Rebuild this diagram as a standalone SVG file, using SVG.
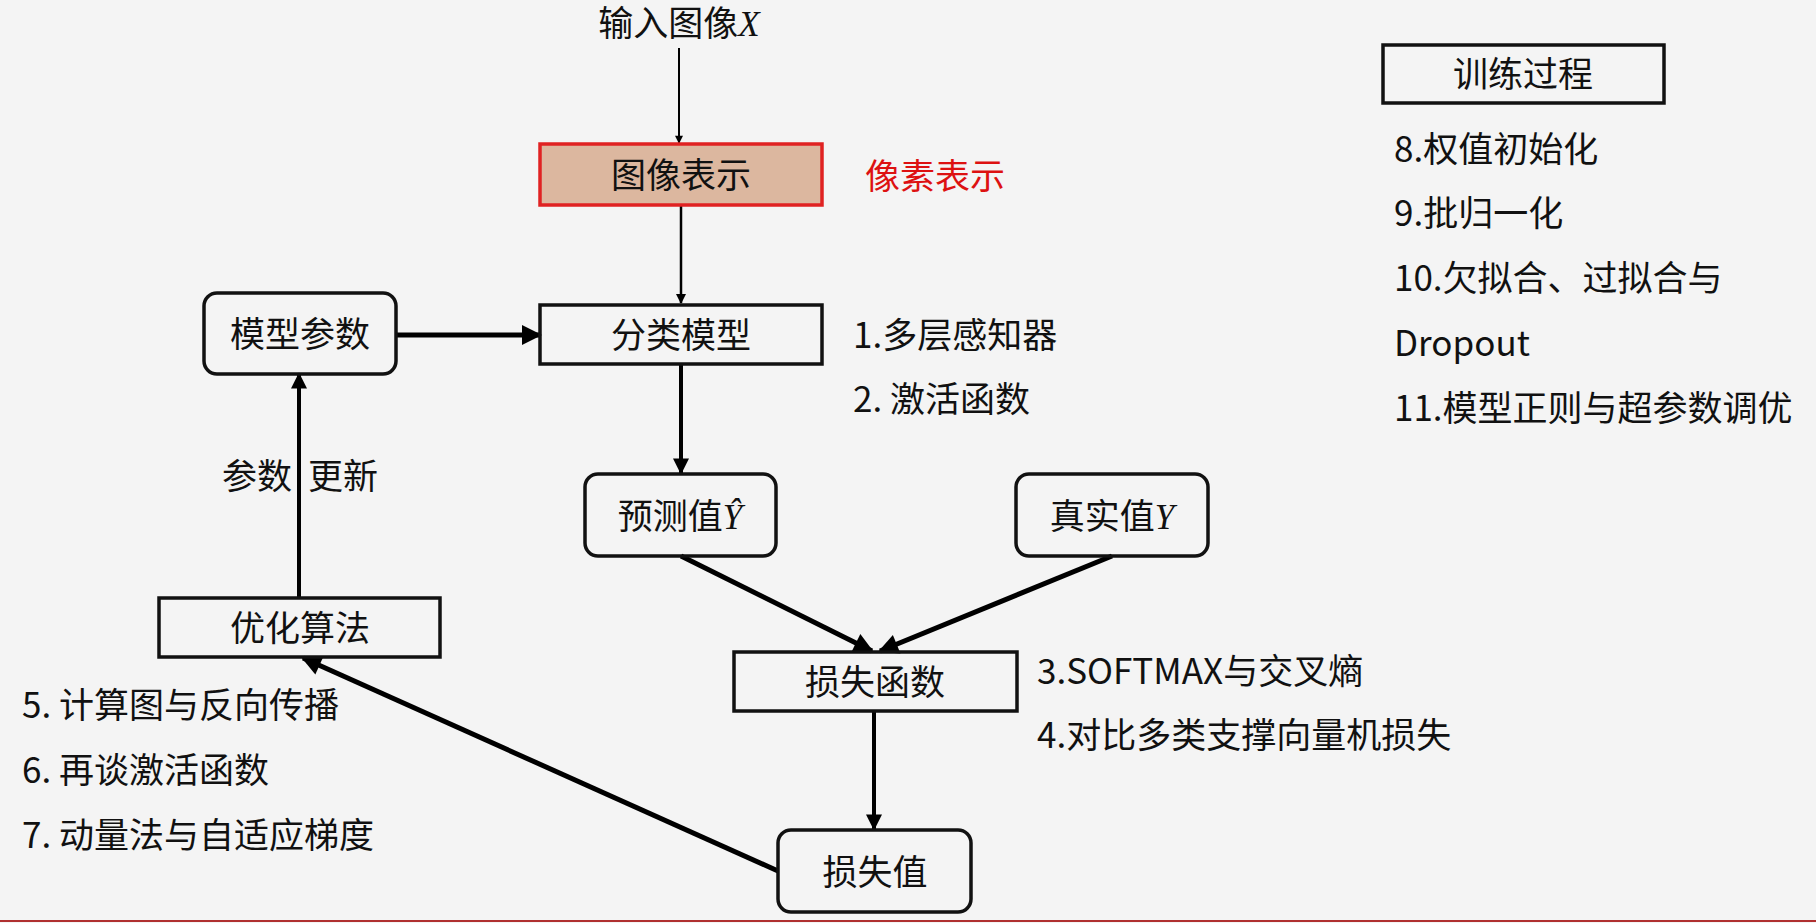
<svg xmlns="http://www.w3.org/2000/svg" width="1816" height="923" viewBox="0 0 1816 923">
<defs>
<marker id="a2" viewBox="0 0 10 10" refX="9" refY="5" markerWidth="4" markerHeight="4" orient="auto" style="overflow:visible">
<path d="M0,0 L10,5 L0,10 z" fill="#000"/>
</marker>
<style>
text{font-family:"Noto Sans CJK SC","Noto Sans",sans-serif;font-size:35px;fill:#111}
.c{text-anchor:middle}
.m{font-family:"Liberation Serif",serif;font-style:italic}
.box{fill:none;stroke:#111;stroke-width:3.5}
.ln{stroke:#000;fill:none}
</style>
</defs>
<rect width="1816" height="923" fill="#f4f4f4"/>
<line x1="0" y1="921" x2="1816" y2="921" stroke="#b03030" stroke-width="2"/>
<g id="connectors">
<line class="ln" x1="679" y1="48" x2="679" y2="143" stroke-width="2" marker-end="url(#a2)"/>
<line class="ln" x1="681" y1="205" x2="681" y2="303" stroke-width="2.5" marker-end="url(#a2)"/>
<line class="ln" x1="396" y1="335" x2="540" y2="335" stroke-width="5" marker-end="url(#a2)"/>
<line class="ln" x1="681" y1="364" x2="681" y2="473" stroke-width="4" marker-end="url(#a2)"/>
<line class="ln" x1="681" y1="556" x2="872" y2="651" stroke-width="5" marker-end="url(#a2)"/>
<line class="ln" x1="1112" y1="556" x2="880" y2="651" stroke-width="5" marker-end="url(#a2)"/>
<line class="ln" x1="874" y1="711" x2="874" y2="829" stroke-width="4" marker-end="url(#a2)"/>
<line class="ln" x1="778" y1="871" x2="303" y2="658" stroke-width="5" marker-end="url(#a2)"/>
<line class="ln" x1="299" y1="598" x2="299" y2="374" stroke-width="4" marker-end="url(#a2)"/>
</g>
<text class="c" x="679" y="36">输入图像<tspan class="m">X</tspan></text>
<g id="n-image"><rect x="540" y="144" width="282" height="61" fill="#dcb79f" stroke="#e02222" stroke-width="3.5"/><text class="c" x="681" y="188">图像表示</text></g>
<text x="865" y="189" style="fill:#dd1111">像素表示</text>
<g id="n-model"><rect class="box" x="540" y="305" width="282" height="59"/><text class="c" x="681" y="348">分类模型</text></g>
<g id="n-params"><rect class="box" x="204" y="293" width="192" height="81" rx="13"/><text class="c" x="300" y="347">模型参数</text></g>
<text x="853" y="348">1.多层感知器</text>
<text x="853" y="412">2. 激活函数</text>
<g id="n-pred"><rect class="box" x="585" y="474" width="191" height="82" rx="13"/><text class="c" x="680" y="529">预测值<tspan class="m">Ŷ</tspan></text></g>
<g id="n-true"><rect class="box" x="1016" y="474" width="192" height="82" rx="13"/><text class="c" x="1112" y="529">真实值<tspan class="m">Y</tspan></text></g>
<g id="n-lossfn"><rect class="box" x="734" y="652" width="283" height="59"/><text class="c" x="875" y="695">损失函数</text></g>
<text x="1037" y="684">3.SOFTMAX与交叉熵</text>
<text x="1037" y="748">4.对比多类支撑向量机损失</text>
<g id="n-loss"><rect class="box" x="778" y="830" width="193" height="82" rx="13"/><text class="c" x="875" y="885">损失值</text></g>
<g id="n-opt"><rect class="box" x="159" y="598" width="281" height="59"/><text class="c" x="300" y="641">优化算法</text></g>
<text x="222" y="489">参数</text><text x="308" y="489">更新</text>
<text x="22" y="718">5. 计算图与反向传播</text>
<text x="22" y="783">6. 再谈激活函数</text>
<text x="22" y="848">7. 动量法与自适应梯度</text>
<g id="n-train"><rect class="box" x="1383" y="45" width="281" height="58"/><text class="c" x="1523" y="87">训练过程</text></g>
<text x="1394" y="162">8.权值初始化</text>
<text x="1394" y="226">9.批归一化</text>
<text x="1394" y="291">10.欠拟合、过拟合与</text>
<text x="1394" y="356">Dropout</text>
<text x="1394" y="421">11.模型正则与超参数调优</text>
</svg>
